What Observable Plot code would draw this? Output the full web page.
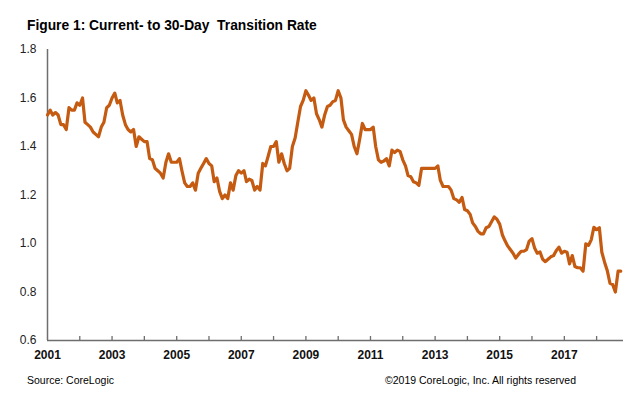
<!DOCTYPE html>
<html><head><meta charset="utf-8">
<script src="https://cdn.jsdelivr.net/npm/d3@7"></script>
<script src="https://cdn.jsdelivr.net/npm/@observablehq/plot@0.6"></script>
<style>
body{margin:0;background:#fff;font-family:Arial,"Liberation Sans",sans-serif;}
#wrap{position:relative;width:640px;height:398px;overflow:hidden;background:#fff;}
#title{position:absolute;left:27px;top:19px;font-size:13.8px;line-height:13.8px;font-weight:bold;white-space:pre;color:#000;}
#chart{position:absolute;left:0;top:38px;}
.foot{position:absolute;top:375px;font-size:10.5px;line-height:10.5px;color:#000;white-space:pre;}
</style>
</head><body>
<div id="wrap">
  <div id="title">Figure 1: Current- to 30-Day  Transition Rate</div>
  <div id="chart"></div>
  <div class="foot" style="left:27px">Source: CoreLogic</div>
  <div class="foot" style="left:385px">©2019 CoreLogic, Inc. All rights reserved</div>
</div>
<script>
// Monthly current-to-30-day transition rate (%), starting January 2001
const startYear = 2001;
const rates = [
1.53,1.55,1.53,1.54,1.53,1.49,1.49,1.47,1.56,1.55,1.55,1.58,
1.57,1.60,1.50,1.49,1.48,1.46,1.45,1.44,1.48,1.50,1.56,1.57,
1.60,1.62,1.58,1.59,1.53,1.49,1.47,1.46,1.47,1.40,1.44,1.43,
1.42,1.42,1.35,1.345,1.31,1.30,1.29,1.27,1.335,1.37,1.335,1.335,
1.335,1.35,1.30,1.25,1.235,1.235,1.25,1.22,1.29,1.31,1.33,1.35,
1.33,1.32,1.255,1.27,1.215,1.185,1.20,1.185,1.25,1.22,1.28,1.30,
1.29,1.30,1.255,1.265,1.26,1.22,1.235,1.22,1.33,1.32,1.36,1.40,
1.40,1.42,1.335,1.37,1.33,1.30,1.31,1.40,1.435,1.50,1.565,1.59,
1.63,1.61,1.59,1.60,1.535,1.51,1.48,1.53,1.565,1.57,1.585,1.59,
1.63,1.60,1.51,1.48,1.465,1.45,1.40,1.37,1.43,1.495,1.47,1.47,
1.47,1.48,1.40,1.345,1.335,1.34,1.35,1.32,1.385,1.375,1.385,1.38,
1.345,1.32,1.28,1.275,1.255,1.25,1.24,1.31,1.31,1.31,1.31,1.31,
1.31,1.32,1.26,1.235,1.235,1.235,1.22,1.185,1.18,1.17,1.19,1.14,
1.135,1.12,1.085,1.07,1.05,1.04,1.04,1.065,1.07,1.09,1.11,1.10,
1.08,1.035,1.012,0.99,0.975,0.96,0.94,0.955,0.968,0.968,0.975,1.01,
1.02,0.98,0.96,0.965,0.935,0.925,0.935,0.945,0.95,0.97,0.985,0.96,
0.968,0.964,0.916,0.95,0.905,0.90,0.90,0.886,0.999,0.992,1.015,1.067,
1.057,1.065,0.964,0.923,0.889,0.836,0.831,0.80,0.886,0.886
];
const yTicks = [0.6, 0.8, 1.0, 1.2, 1.4, 1.6, 1.8];
const xTickYears = [2002,2003,2004,2005,2006,2007,2008,2009,2010,2011,2012,2013,2014,2015,2016,2017,2018];
const xLabelYears = [2001,2003,2005,2007,2009,2011,2013,2015,2017];

const data = rates.map((v, i) => ({date: new Date(Date.UTC(startYear, i, 1)), rate: v}));
const xStart = new Date(Date.UTC(startYear, 0, 1));
const xEnd = new Date(Date.UTC(startYear, rates.length, 1));
const yr = y => new Date(Date.UTC(y, 0, 1));

const axisColor = "#6e6e6e";
const plot = Plot.plot({
  width: 640,
  height: 330,
  marginLeft: 47,
  marginRight: 17,
  marginTop: 11,
  marginBottom: 28,
  style: {fontFamily: "Arial, 'Liberation Sans', sans-serif", background: "#fff"},
  x: {type: "utc", domain: [xStart, xEnd]},
  y: {domain: [0.6, 1.8]},
  marks: [
    Plot.axisY(yTicks, {tickSize: 0, tickPadding: 11, tickFormat: d3.format(".1f"), fontSize: 12, fill: "#222", label: null}),
    Plot.axisX(xTickYears.map(yr), {tickSize: -4, stroke: axisColor, strokeWidth: 1.3, tickFormat: () => "", label: null}),
    Plot.axisX(xLabelYears.map(yr), {tickSize: 0, tickPadding: 10, tickFormat: d3.utcFormat("%Y"), fontSize: 12, fontWeight: "bold", fill: "#111", label: null}),
    Plot.ruleY([0.6], {stroke: axisColor, strokeWidth: 1.5}),
    Plot.ruleX([xStart], {stroke: axisColor, strokeWidth: 1.5}),
    Plot.line(data, {x: "date", y: "rate", stroke: "#C55A11", strokeWidth: 3.2, strokeLinejoin: "round", strokeLinecap: "round"})
  ]
});
document.getElementById("chart").appendChild(plot);
</script>
</body></html>
